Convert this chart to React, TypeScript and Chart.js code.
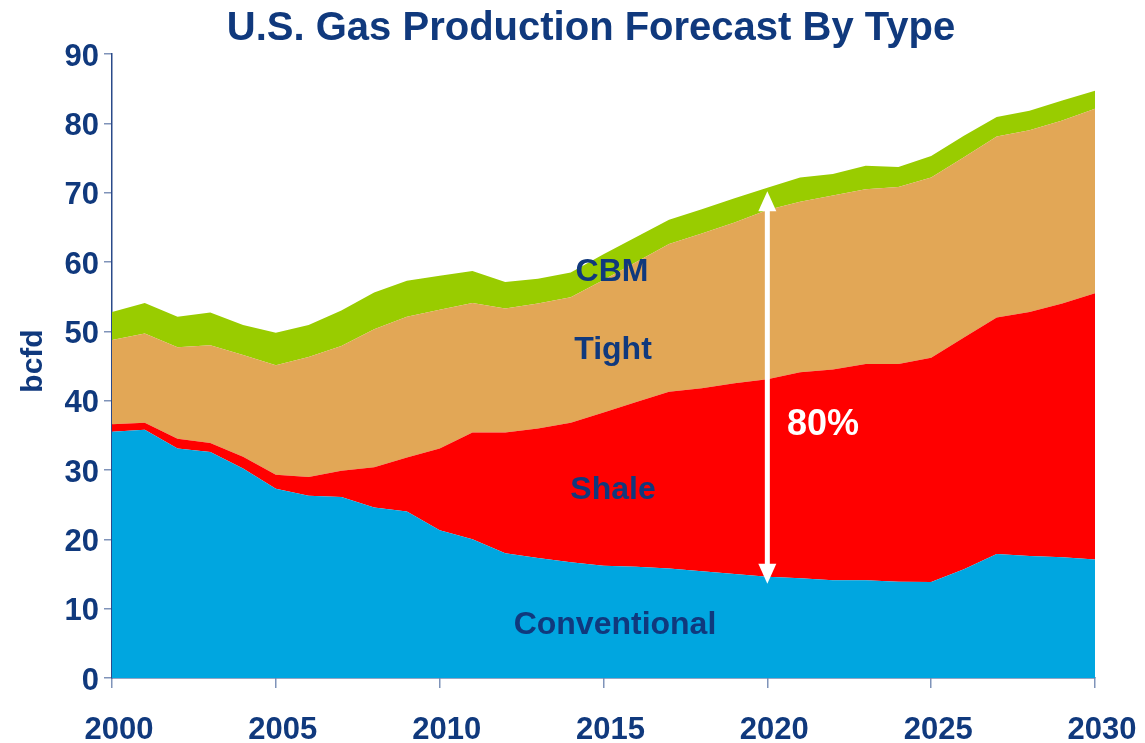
import React, { useEffect, useRef } from "react";
import { Chart, registerables } from "chart.js";

Chart.register(...registerables);

const years = [
  2000, 2001, 2002, 2003, 2004, 2005, 2006, 2007, 2008, 2009, 2010,
  2011, 2012, 2013, 2014, 2015, 2016, 2017, 2018, 2019, 2020,
  2021, 2022, 2023, 2024, 2025, 2026, 2027, 2028, 2029, 2030,
];

const conventional = [
  35.5, 35.8, 33.1, 32.6, 30.2, 27.3, 26.3, 26.1, 24.6, 24.0, 21.3,
  20.0, 18.0, 17.3, 16.7, 16.2, 16.05, 15.8, 15.4, 15.0, 14.6,
  14.4, 14.1, 14.1, 13.9, 13.85, 15.7, 17.9, 17.6, 17.4, 17.1,
];

const shale = [
  1.1, 1.0, 1.4, 1.3, 1.7, 2.0, 2.7, 3.8, 5.8, 7.8, 11.8,
  15.4, 17.4, 18.7, 20.1, 22.1, 23.75, 25.5, 26.4, 27.5, 28.5,
  29.7, 30.4, 31.2, 31.4, 32.35, 33.4, 34.1, 35.2, 36.6, 38.4,
];

const tight = [
  12.15, 12.9, 13.2, 14.1, 14.7, 15.8, 17.3, 18.0, 19.9, 20.3, 20.0,
  18.7, 17.9, 18.0, 18.1, 19.1, 20.2, 21.3, 22.3, 23.2, 24.4,
  24.6, 25.1, 25.2, 25.5, 26.0, 26.0, 26.1, 26.2, 26.4, 26.6,
];

const cbm = [
  4.05, 4.4, 4.4, 4.7, 4.3, 4.7, 4.6, 5.1, 5.3, 5.2, 4.9,
  4.6, 3.8, 3.6, 3.6, 3.7, 3.6, 3.5, 3.5, 3.5, 3.2,
  3.5, 3.1, 3.4, 2.9, 3.1, 3.1, 2.8, 2.8, 2.9, 2.6,
];

const seriesNames = ["Conventional", "Shale", "Tight", "CBM"];
const seriesColors = ["#00A6E0", "#FF0000", "#E2A756", "#99CC00"];

// Area labels: [text, x (year), y (bcfd)]
const areaLabels: [string, number, number][] = [
  ["CBM", 2015.26, 58.5],
  ["Tight", 2015.29, 47.3],
  ["Shale", 2015.29, 27.1],
  ["Conventional", 2015.35, 7.6],
];

const titleText = "U.S. Gas Production Forecast By Type";
const yAxisTitle = "bcfd";
const arrowYear = 2020;
const arrowTop = 70.2;
const arrowBottom = 13.6;
const arrowLabel = "80%";
const arrowLabelPos: [number, number] = [2021.7, 36.5];

const NAVY = "#10397D";
const FONT = "'Liberation Sans', Arial, Helvetica, sans-serif";

const overlayPlugin = {
  id: "overlay",
  afterDatasetsDraw(chart: any) {
    const { ctx, scales } = chart;
    const xs = scales.x;
    const ys = scales.y;
    ctx.save();
    // Area labels
    ctx.fillStyle = NAVY;
    ctx.font = `bold 32px ${FONT}`;
    ctx.textAlign = "center";
    ctx.textBaseline = "middle";
    for (const [t, xv, yv] of areaLabels) {
      ctx.fillText(t, xs.getPixelForValue(xv), ys.getPixelForValue(yv));
    }
    // Arrow
    const ax = xs.getPixelForValue(arrowYear);
    const yt = ys.getPixelForValue(arrowTop);
    const yb = ys.getPixelForValue(arrowBottom);
    const headH = 20;
    const headW = 9;
    ctx.strokeStyle = "#FFFFFF";
    ctx.fillStyle = "#FFFFFF";
    ctx.lineWidth = 5;
    ctx.beginPath();
    ctx.moveTo(ax, yt + headH - 2);
    ctx.lineTo(ax, yb - headH + 2);
    ctx.stroke();
    ctx.beginPath();
    ctx.moveTo(ax, yt);
    ctx.lineTo(ax - headW, yt + headH);
    ctx.lineTo(ax + headW, yt + headH);
    ctx.closePath();
    ctx.fill();
    ctx.beginPath();
    ctx.moveTo(ax, yb);
    ctx.lineTo(ax - headW, yb - headH);
    ctx.lineTo(ax + headW, yb - headH);
    ctx.closePath();
    ctx.fill();
    // 80% label
    ctx.font = `bold 36px ${FONT}`;
    ctx.fillText(
      arrowLabel,
      xs.getPixelForValue(arrowLabelPos[0]),
      ys.getPixelForValue(arrowLabelPos[1])
    );
    ctx.restore();
  },
  afterDraw(chart: any) {
    const { ctx } = chart;
    ctx.save();
    ctx.fillStyle = NAVY;
    ctx.font = `bold 40px ${FONT}`;
    ctx.textAlign = "center";
    ctx.textBaseline = "alphabetic";
    ctx.fillText(titleText, 591, 39.5);
    ctx.translate(42, 361);
    ctx.rotate(-Math.PI / 2);
    ctx.font = `bold 30px ${FONT}`;
    ctx.fillText(yAxisTitle, 0, 0);
    ctx.restore();
  },
};

export default function App() {
  const ref = useRef<HTMLCanvasElement | null>(null);

  useEffect(() => {
    if (!ref.current) return;
    const allSeries = [conventional, shale, tight, cbm];
    const chart = new Chart(ref.current, {
      type: "line",
      data: {
        datasets: allSeries.map((s, i) => ({
          label: seriesNames[i],
          data: years.map((yr, j) => ({ x: yr, y: s[j] })),
          backgroundColor: seriesColors[i],
          borderColor: seriesColors[i],
          borderWidth: 0,
          pointRadius: 0,
          tension: 0,
          fill: i === 0 ? "origin" : "-1",
        })),
      },
      options: {
        animation: false,
        responsive: false,
        maintainAspectRatio: false,
        layout: { padding: { top: 54, right: 50, left: 0, bottom: 0 } },
        plugins: {
          legend: { display: false },
          title: { display: false },
          tooltip: { enabled: false },
        },
        scales: {
          x: {
            type: "linear",
            min: 2000,
            max: 2030,
            afterFit: (s: any) => {
              s.height = 65;
              s.paddingLeft = 0;
              s.paddingRight = 0;
            },
            ticks: {
              stepSize: 5,
              color: NAVY,
              font: { family: FONT, size: 31, weight: "bold" },
              padding: 24,
              labelOffset: 7,
              maxRotation: 0,
              callback: (v: any) => String(v),
            },
            grid: {
              drawOnChartArea: false,
              drawTicks: true,
              tickLength: 10,
              color: "#7F93B9",
              lineWidth: 1.5,
            },
            border: { color: "#2A4A8A", width: 1.5 },
          },
          y: {
            stacked: true,
            min: 0,
            max: 90,
            afterFit: (s: any) => {
              s.width = 112;
              s.paddingTop = 0;
              s.paddingBottom = 0;
            },
            ticks: {
              stepSize: 10,
              color: NAVY,
              font: { family: FONT, size: 31, weight: "bold" },
              padding: 5,
              labelOffset: 3,
              callback: (v: any) => String(v),
            },
            grid: {
              drawOnChartArea: false,
              drawTicks: true,
              tickLength: 8,
              color: "#7F93B9",
              lineWidth: 1.5,
            },
            border: { color: "#2A4A8A", width: 1.5 },
          },
        },
      },
      plugins: [overlayPlugin],
    } as any);
    return () => chart.destroy();
  }, []);

  return (
    <div
      style={{
        position: "fixed",
        left: 0,
        top: 0,
        width: 1145,
        height: 743,
        background: "#FFFFFF",
      }}
    >
      <canvas ref={ref} width={1145} height={743} style={{ width: 1145, height: 743 }} />
    </div>
  );
}
